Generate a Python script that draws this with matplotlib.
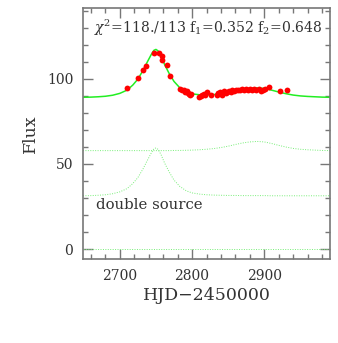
import numpy as np
import matplotlib
matplotlib.use("Agg")
import matplotlib.pyplot as plt
from matplotlib.ticker import MultipleLocator

# observed data points (HJD-2450000, flux)
obs_t = [2710.6, 2725.4, 2731.4, 2735.6, 2747.6, 2754.5, 2757.7, 2758.7, 2764.7, 2769.7,
         2783.6, 2785.9, 2788.2, 2790.5, 2792.4, 2793.7, 2795.6, 2797.5, 2798.4, 2809.5,
         2811.8, 2814.1, 2816.4, 2818.2, 2820.6, 2826.1, 2834.0, 2836.3, 2838.6, 2840.9,
         2843.7, 2846.4, 2848.7, 2851.5, 2853.8, 2855.7, 2858.4, 2860.7, 2863.1, 2865.8,
         2868.6, 2871.4, 2874.1, 2876.9, 2880.1, 2883.4, 2886.1, 2888.9, 2892.6, 2895.8,
         2898.2, 2901.4, 2906.9, 2921.7, 2931.9]
obs_f = [94.3, 100.3, 105.2, 107.5, 114.9, 115.1, 113.6, 111.2, 108.3, 101.3,
         93.7, 93.2, 93.2, 92.4, 92.6, 91.8, 91.0, 90.2, 91.2, 89.1,
         89.7, 90.2, 90.8, 90.4, 92.2, 90.6, 90.4, 91.6, 92.2, 90.6,
         92.6, 91.6, 92.4, 92.8, 92.4, 93.2, 92.8, 93.3, 93.5, 93.2,
         93.7, 93.5, 93.9, 93.5, 93.9, 93.3, 93.9, 93.2, 93.9, 92.8,
         93.5, 93.9, 95.1, 93.0, 93.2]

# model grid and the two source components
model_t = [2649, 2660, 2670, 2680, 2690, 2700, 2710, 2718, 2725, 2732, 2738, 2743, 2747,
           2750, 2753, 2757, 2762, 2768, 2775, 2783, 2792, 2800, 2810, 2820, 2830, 2840,
           2850, 2860, 2870, 2880, 2890, 2900, 2910, 2920, 2930, 2940, 2950, 2960, 2970,
           2980, 2991]
comp_peak = [31.3, 31.4, 31.6, 31.9, 32.5, 33.6, 35.5, 38.5, 42.0, 47.0, 52.0, 56.0, 58.8,
             59.4, 58.5, 55.5, 50.5, 45.5, 40.5, 36.8, 34.2, 33.0, 32.3, 31.9, 31.7, 31.6,
             31.5, 31.5, 31.4, 31.4, 31.4, 31.4, 31.3, 31.3, 31.3, 31.3, 31.3, 31.3, 31.3,
             31.3, 31.3]
comp_bump = [57.8, 57.8, 57.8, 57.8, 57.8, 57.8, 57.8, 57.8, 57.8, 57.8, 57.8, 57.8, 57.8,
             57.8, 57.8, 57.8, 57.8, 57.8, 57.9, 57.9, 58.0, 58.1, 58.3, 58.6, 59.0, 59.6,
             60.4, 61.4, 62.3, 62.9, 63.2, 62.9, 62.0, 60.9, 59.9, 59.1, 58.6, 58.3, 58.1,
             57.9, 57.8]
model_total = np.add(comp_peak, comp_bump)

xticks = [2700, 2800, 2900]
yticks = [0, 50, 100]

plt.rcParams["mathtext.fontset"] = "dejavuserif"
serif = "DejaVu Serif"
txt_c = "#333333"
fig = plt.figure(figsize=(3.38, 3.43), dpi=100)
ax = fig.add_axes([0.2456, 0.2449, 0.9763 - 0.2456, 0.9767 - 0.2449])

dot = (0, (1, 1.5))
ax.plot(model_t, comp_bump, color="#77ee77", lw=0.7, ls=dot)
ax.plot(model_t, comp_peak, color="#77ee77", lw=0.7, ls=dot)
ax.plot([2649, 2991], [0, 0], color="#77ee77", lw=0.7, ls=dot)
ax.plot(model_t, model_total, color="#22ee22", lw=1.1)
ax.plot(obs_t, obs_f, "o", color="#ff0000", ms=4.2, mec="none")

ax.set_xlim(2649, 2991)
ax.set_ylim(-5.8, 141.5)
ax.set_xticks(xticks)
ax.set_yticks(yticks)
ax.xaxis.set_minor_locator(MultipleLocator(20))
ax.yaxis.set_minor_locator(MultipleLocator(10))
spine_c = "#777777"
for s in ax.spines.values():
    s.set_color(spine_c)
    s.set_linewidth(1.2)
ax.tick_params(which="both", direction="in", top=True, right=True, color=spine_c, width=1.0)
ax.tick_params(which="major", length=7.5, labelsize=10, pad=7, labelcolor=txt_c)
ax.tick_params(which="minor", length=3.6)
for lab in ax.get_xticklabels() + ax.get_yticklabels():
    lab.set_family(serif)

ax.set_xlabel("HJD\u22122450000", fontsize=12.5, family=serif, color=txt_c, labelpad=3)
ax.set_ylabel("Flux", fontsize=12.5, family=serif, color=txt_c, labelpad=6)

ax.text(0.045, 0.92, r"$\chi^2$=118./113 f$_1$=0.352 f$_2$=0.648", transform=ax.transAxes,
        fontsize=10.1, family=serif, color=txt_c, va="center", ha="left")
ax.text(0.052, 0.215, "double source", transform=ax.transAxes,
        fontsize=10.7, family=serif, color=txt_c, va="center", ha="left")

fig.savefig("out.png", dpi=100)
